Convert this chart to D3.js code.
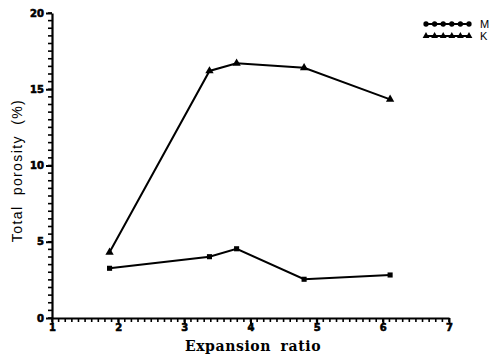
<!DOCTYPE html>
<html>
<head>
<meta charset="utf-8">
<script src="https://cdn.jsdelivr.net/npm/d3@7"></script>
<style>
  body { margin: 0; background: #fff; }
  svg { display: block; }
</style>
</head>
<body>
<svg id="chart" width="499" height="354"></svg>
<script>
'use strict';
// values
const expansionRatio = [1.87, 3.38, 3.79, 4.81, 6.11];
const seriesM = [3.26, 4.02, 4.54, 2.54, 2.82];
const seriesK = [4.31, 16.2, 16.7, 16.41, 14.34];
const seriesNames = ["M", "K"];
const xTicks = [1, 2, 3, 4, 5, 6, 7];
const yTicks = [0, 5, 10, 15, 20];

(() => {
    const svg = d3.select("#chart");
    const left = 52, right = 449, top = 13, bottom = 318;

    const x = d3.scaleLinear().domain([1, 7]).range([left, right]);
    const y = d3.scaleLinear().domain([0, 20]).range([bottom, top]);

    function styleLabels(g) {
        g.selectAll("text")
            .attr("fill", "#000")
            .style("font-family", "DejaVu Sans, sans-serif")
            .style("font-weight", "900")
            .style("font-size", "10px")
            .style("stroke", "#000")
            .style("stroke-width", "0.6px");
    }

    // minor ticks drawn as plain lines, every 0.1 on x and 0.5 on y
    const xMinor = d3.range(0, 61).map(i => 1 + i / 10);
    const yMinor = d3.range(0, 41).map(i => i / 2);
    svg.append("g").selectAll("line").data(xMinor).enter().append("line")
        .attr("x1", d => x(d)).attr("x2", d => x(d))
        .attr("y1", bottom).attr("y2", bottom + 4)
        .attr("stroke", "#000").attr("stroke-width", 1.6);
    svg.append("g").selectAll("line").data(yMinor).enter().append("line")
        .attr("x1", left - 4).attr("x2", left)
        .attr("y1", d => y(d)).attr("y2", d => y(d))
        .attr("stroke", "#000").attr("stroke-width", 1.6);

    // main axes
    svg.append("g")
        .attr("transform", `translate(0,${bottom})`)
        .call(d3.axisBottom(x).tickValues(xTicks).tickSize(6).tickPadding(0).tickFormat(d3.format("d")).tickSizeOuter(0))
        .call(g => g.select(".domain").attr("stroke", "#000").attr("stroke-width", 2.2))
        .call(g => g.selectAll("line").attr("stroke", "#000").attr("stroke-width", 2))
        .call(styleLabels);
    svg.append("g")
        .attr("transform", `translate(${left},0)`)
        .call(d3.axisLeft(y).tickValues(yTicks).tickSize(6).tickPadding(2).tickFormat(d3.format("d")).tickSizeOuter(0))
        .call(g => g.select(".domain").attr("stroke", "#000").attr("stroke-width", 2.2))
        .call(g => g.selectAll("line").attr("stroke", "#000").attr("stroke-width", 2))
        .call(styleLabels);

    // titles
    svg.append("text")
        .attr("x", 253).attr("y", 351)
        .attr("text-anchor", "middle")
        .style("font-family", "DejaVu Serif, serif")
        .style("font-weight", "bold")
        .style("font-size", "14px")
        .style("letter-spacing", "0.6px")
        .style("word-spacing", "4px")
        .text("Expansion ratio");
    svg.append("text")
        .attr("transform", `translate(22,${(bottom + top) / 2 + 5}) rotate(-90)`)
        .attr("text-anchor", "middle")
        .style("font-family", "Liberation Sans, Arial, sans-serif")
        .style("font-size", "14px")
        .style("letter-spacing", "1.4px")
        .style("word-spacing", "5px")
        .text("Total porosity (%)");

    const line = d3.line().x(d => x(d[0])).y(d => y(d[1]));
    const dataM = expansionRatio.map((v, i) => [v, seriesM[i]]);
    const dataK = expansionRatio.map((v, i) => [v, seriesK[i]]);

    [dataM, dataK].forEach(d => {
        svg.append("path")
            .datum(d)
            .attr("fill", "none")
            .attr("stroke", "#000")
            .attr("stroke-width", 2)
            .attr("d", line);
    });

    const square = d3.symbol().type(d3.symbolSquare).size(26);
    const tri = d3.symbol().type(d3.symbolTriangle).size(30);
    svg.selectAll(".pm").data(dataM).enter().append("path")
        .attr("transform", d => `translate(${x(d[0])},${y(d[1])})`)
        .attr("d", square).attr("fill", "#000");
    svg.selectAll(".pk").data(dataK).enter().append("path")
        .attr("transform", d => `translate(${x(d[0])},${y(d[1])})`)
        .attr("d", tri).attr("fill", "#000");

    // legend
    const legY = [24, 36];
    const legX0 = 426, legX1 = 469;
    const dot = d3.symbol().type(d3.symbolCircle).size(22);
    const ltri = d3.symbol().type(d3.symbolTriangle).size(20);
    seriesNames.forEach((name, i) => {
        const g = svg.append("g");
        g.append("line")
            .attr("x1", legX0).attr("x2", legX1)
            .attr("y1", legY[i]).attr("y2", legY[i])
            .attr("stroke", "#000").attr("stroke-width", 1.8);
        d3.range(6).forEach(j => {
            g.append("path")
                .attr("transform", `translate(${legX0 + j * (legX1 - legX0) / 5},${legY[i]})`)
                .attr("d", i === 0 ? dot : ltri)
                .attr("fill", "#000");
        });
        g.append("text")
            .attr("x", 480).attr("y", legY[i] + 4)
            .style("font-family", "Liberation Sans, Arial, sans-serif")
            .style("font-size", "11px")
            .text(name);
    });
})();
</script>
</body>
</html>
